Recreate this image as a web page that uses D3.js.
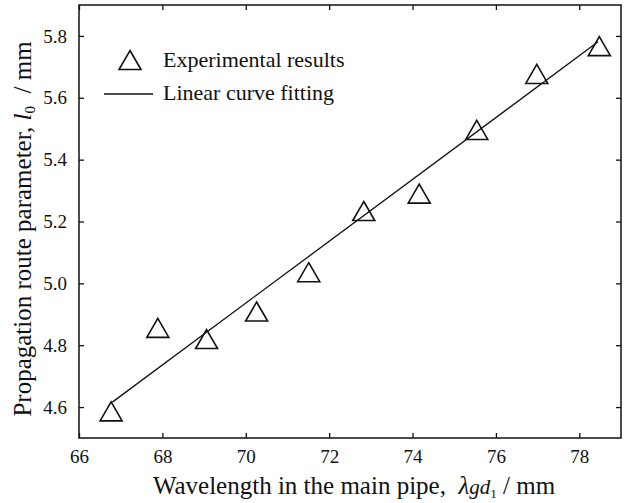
<!DOCTYPE html>
<html>
<head>
  <meta charset="utf-8">
  <style>
    body { margin: 0; background: #fff; }
    svg { display: block; font-family: "Liberation Serif", "Times New Roman", serif; }
    .axistext { font-size: 25px; fill: #111; }
    .legendtext { font-size: 22px; fill: #111; }
  </style>
</head>
<body>
  <div class="chart"></div>
  <script src="https://cdn.jsdelivr.net/npm/d3@7"></script>
  <script>
    // measured points (wavelength in mm, l0 in mm)
    let wavelength = [66.77, 67.89, 69.06, 70.26, 71.51, 72.83, 74.16, 75.54, 76.98, 78.48];
    let routeParam = [4.586, 4.856, 4.82, 4.909, 5.036, 5.234, 5.29, 5.496, 5.677, 5.767];

    // end points of the fitted line as drawn
    let fitX = [66.8, 78.45];
    let fitY = [4.616, 5.781];

    let xTicks = [66, 68, 70, 72, 74, 76, 78];
    let yTicks = [4.6, 4.8, 5.0, 5.2, 5.4, 5.6, 5.8];

    let legendLabels = ["Experimental results", "Linear curve fitting"];

    let serif = '"Liberation Serif", "Times New Roman", serif';

    let W = 636, H = 503;
    let margin = { top: 5, right: 15, bottom: 65, left: 79 },
      width = W - margin.left - margin.right,
      height = H - margin.top - margin.bottom;

    let svg = d3.select(".chart").append("svg")
      .attr("width", W)
      .attr("height", H);

    let g = svg.append("g")
      .attr("transform", "translate(" + margin.left + "," + margin.top + ")");

    let x = d3.scaleLinear().domain([66, 79]).range([0, width]);
    let y = d3.scaleLinear().domain([4.5, 5.9]).range([height, 0]);

    // axes, ticks pointing inward
    let xAxis = d3.axisBottom(x).tickValues(xTicks).tickSizeInner(-5).tickSizeOuter(0).tickPadding(12);
    let yAxis = d3.axisLeft(y).tickValues(yTicks).tickSizeInner(-5).tickSizeOuter(0).tickPadding(12)
      .tickFormat(d3.format(".1f"));

    g.append("g")
      .attr("transform", "translate(0," + height + ")")
      .call(xAxis);
    g.append("g").call(yAxis);

    // mirror ticks on top and right
    g.append("g")
      .call(d3.axisTop(x).tickValues(xTicks).tickSizeInner(-5).tickSizeOuter(0).tickFormat(""));
    g.append("g")
      .attr("transform", "translate(" + width + ",0)")
      .call(d3.axisRight(y).tickValues(yTicks).tickSizeInner(-5).tickSizeOuter(0).tickFormat(""));

    g.selectAll(".domain").remove();
    g.selectAll(".tick text")
      .style("font-family", serif)
      .style("font-size", "19px")
      .attr("fill", "#111");
    g.selectAll(".tick line").attr("stroke", "#111").attr("stroke-width", 1.3);

    // frame
    g.append("rect")
      .attr("x", 0).attr("y", 0)
      .attr("width", width).attr("height", height)
      .attr("fill", "none")
      .attr("stroke", "#111")
      .attr("stroke-width", 1.5);

    // fitted line
    g.append("line")
      .attr("x1", x(fitX[0])).attr("y1", y(fitY[0]))
      .attr("x2", x(fitX[1])).attr("y2", y(fitY[1]))
      .attr("stroke", "#111")
      .attr("stroke-width", 1.3);

    // open triangles
    let triW = 22, triH = 19;
    function triangle(cx, cy) {
      return "M" + cx + "," + (cy - triH / 2) +
        "L" + (cx + triW / 2) + "," + (cy + triH / 2) +
        "L" + (cx - triW / 2) + "," + (cy + triH / 2) + "Z";
    }

    g.selectAll(".point")
      .data(wavelength)
      .enter().append("path")
      .attr("class", "point")
      .attr("d", function (d, i) { return triangle(x(d), y(routeParam[i])); })
      .attr("fill", "none")
      .attr("stroke", "#111")
      .attr("stroke-width", 1.6);

    // legend
    svg.append("path")
      .attr("d", triangle(130, 60))
      .attr("fill", "none")
      .attr("stroke", "#111")
      .attr("stroke-width", 1.6);
    svg.append("text")
      .attr("class", "legendtext")
      .attr("x", 163).attr("y", 67)
      .text(legendLabels[0]);
    svg.append("line")
      .attr("x1", 104).attr("x2", 153)
      .attr("y1", 94).attr("y2", 94)
      .attr("stroke", "#111")
      .attr("stroke-width", 1.3);
    svg.append("text")
      .attr("class", "legendtext")
      .attr("x", 163).attr("y", 100)
      .text(legendLabels[1]);

    // x axis title
    let xt = svg.append("text")
      .attr("class", "axistext")
      .attr("x", 354)
      .attr("y", 494)
      .attr("text-anchor", "middle");
    xt.append("tspan").text("Wavelength in the main pipe,\u00a0\u00a0");
    xt.append("tspan").attr("font-style", "italic").text("\u03bb");
    xt.append("tspan").attr("font-style", "italic").attr("font-size", "21px").text("gd");
    xt.append("tspan").attr("font-size", "13px").attr("dy", 4).text("1");
    xt.append("tspan").attr("dy", -4).text(" / mm");

    // y axis title
    let yt = svg.append("text")
      .attr("class", "axistext")
      .attr("transform", "translate(31,229) rotate(-90)")
      .attr("text-anchor", "middle");
    yt.append("tspan").text("Propagation route parameter, ");
    yt.append("tspan").attr("font-style", "italic").text("l");
    yt.append("tspan").attr("font-size", "15px").attr("dy", 4).text("0");
    yt.append("tspan").attr("dy", -4).text(" \u00a0/ mm");
  </script>
</body>
</html>
